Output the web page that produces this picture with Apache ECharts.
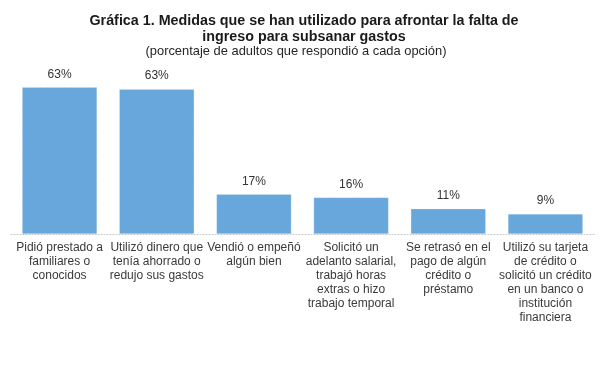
<!DOCTYPE html>
<html>
<head>
<meta charset="utf-8">
<script src="https://cdn.jsdelivr.net/npm/echarts@6/dist/echarts.min.js"></script>
<style>html,body{margin:0;padding:0;background:#fff;}#c{width:600px;height:377px;}</style>
</head>
<body>
<div id="c"></div>
<script>
const titleText = 'Gráfica 1. Medidas que se han utilizado para afrontar la falta de\ningreso para subsanar gastos';
const subtitleText = '(porcentaje de adultos que respondió a cada opción)';
const categories = [
  'Pidió prestado a\nfamiliares o\nconocidos',
  'Utilizó dinero que\ntenía ahorrado o\nredujo sus gastos',
  'Vendió o empeñó\nalgún bien',
  'Solicitó un\nadelanto salarial,\ntrabajó horas\nextras o hizo\ntrabajo temporal',
  'Se retrasó en el\npago de algún\ncrédito o\npréstamo',
  'Utilizó su tarjeta\nde crédito o\nsolicitó un crédito\nen un banco o\ninstitución\nfinanciera'
];
const values = [63.4, 62.6, 17.2, 15.8, 10.9, 8.7];

const chart = echarts.init(document.getElementById('c'), null, {renderer: 'canvas'});
chart.setOption({
  animation: false,
  backgroundColor: '#ffffff',
  title: [
    {
      text: titleText,
      left: 304,
      textAlign: 'center',
      top: 13,
      padding: 0,
      textStyle: {fontFamily: 'Liberation Sans, Arial, sans-serif', fontSize: 14.3, fontWeight: 'bold', color: '#1a1a1a', lineHeight: 16}
    },
    {
      text: subtitleText,
      left: 296,
      textAlign: 'center',
      top: 44,
      padding: 0,
      textStyle: {fontFamily: 'Liberation Sans, Arial, sans-serif', fontSize: 12.9, fontWeight: 'normal', color: '#262626', lineHeight: 14}
    }
  ],
  grid: {left: 11, right: 6, top: 72, bottom: 143, containLabel: false},
  xAxis: {
    type: 'category',
    data: categories,
    axisLine: {show: true, lineStyle: {color: '#c4c4c4', type: [1, 2], width: 1}},
    axisTick: {show: false},
    axisLabel: {
      interval: 0,
      margin: 7,
      fontFamily: 'Liberation Sans, Arial, sans-serif',
      fontSize: 12,
      lineHeight: 14,
      color: '#3a3a3a'
    }
  },
  yAxis: {
    type: 'value',
    min: 0,
    max: 70,
    show: false,
    splitLine: {show: false}
  },
  series: [{
    type: 'bar',
    data: values,
    barWidth: 75,
    itemStyle: {color: '#67A7DB', borderColor: '#dfe9f2', borderWidth: 0.6, borderType: 'dotted'},
    label: {
      show: true,
      position: 'top',
      distance: 7,
      formatter: p => Math.round(p.value) + '%',
      fontFamily: 'Liberation Sans, Arial, sans-serif',
      fontSize: 12,
      color: '#333333'
    }
  }]
});
</script>
</body>
</html>
